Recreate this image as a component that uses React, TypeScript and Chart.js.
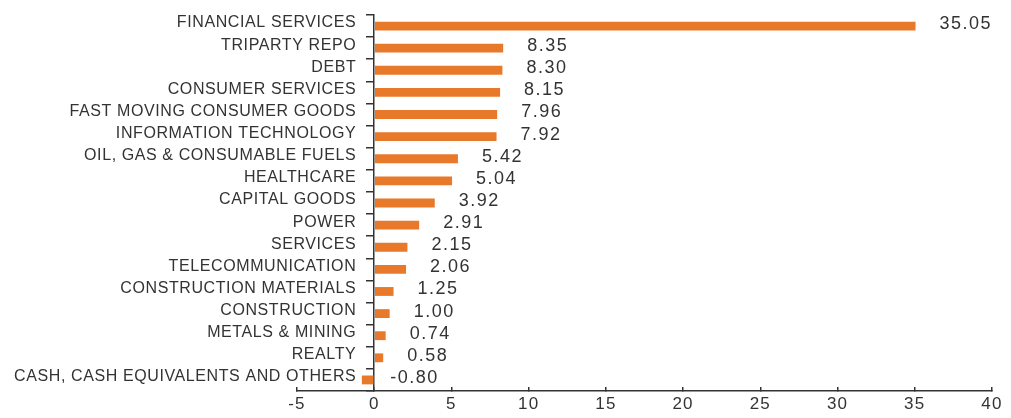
import React, { useEffect, useRef } from "react";
import { Chart, registerables } from "chart.js";

Chart.register(...registerables);

const categories = [
  "FINANCIAL SERVICES",
  "TRIPARTY REPO",
  "DEBT",
  "CONSUMER SERVICES",
  "FAST MOVING CONSUMER GOODS",
  "INFORMATION TECHNOLOGY",
  "OIL, GAS & CONSUMABLE FUELS",
  "HEALTHCARE",
  "CAPITAL GOODS",
  "POWER",
  "SERVICES",
  "TELECOMMUNICATION",
  "CONSTRUCTION MATERIALS",
  "CONSTRUCTION",
  "METALS & MINING",
  "REALTY",
  "CASH, CASH EQUIVALENTS AND OTHERS",
];

const values = [
  35.05, 8.35, 8.3, 8.15, 7.96, 7.92, 5.42, 5.04, 3.92, 2.91, 2.15, 2.06, 1.25,
  1.0, 0.74, 0.58, -0.8,
];

const xMin = -5;
const xMax = 40;
const xStep = 5;

const BAR_COLOR = "#E8792B";
const TEXT_COLOR = "#333333";
const AXIS_COLOR = "#333333";
const FONT_FAMILY = "'Liberation Sans', Arial, sans-serif";

const zeroPadding = (scale: any) => {
  scale.paddingTop = 0;
  scale.paddingBottom = 0;
  scale.paddingLeft = 0;
  scale.paddingRight = 0;
};

const spacingPlugin = {
  id: "letterSpacing",
  beforeLayout(chart: any) {
    (chart.ctx as any).letterSpacing = "1.2px";
  },
  beforeDraw(chart: any) {
    (chart.ctx as any).letterSpacing = "1.2px";
  },
};

const valueLabelPlugin = {
  id: "valueLabels",
  afterDatasetsDraw(chart: any) {
    const ctx = chart.ctx;
    const meta = chart.getDatasetMeta(0);
    const xScale = chart.scales.x;
    const zero = xScale.getPixelForValue(0);
    ctx.save();
    (ctx as any).letterSpacing = "1.5px";
    ctx.font = `18px ${FONT_FAMILY}`;
    ctx.fillStyle = TEXT_COLOR;
    ctx.textAlign = "left";
    ctx.textBaseline = "middle";
    meta.data.forEach((el: any, i: number) => {
      const v = values[i];
      const x = v >= 0 ? el.x + 24 : zero + 16;
      ctx.fillText(v.toFixed(2), x, el.y - 2);
    });
    ctx.restore();
    // spacing for the category labels drawn after the datasets
    (ctx as any).letterSpacing = "0.6px";
  },
};

export default function App() {
  const canvasRef = useRef<HTMLCanvasElement | null>(null);

  useEffect(() => {
    if (!canvasRef.current) return;
    const chart = new Chart(canvasRef.current, {
      type: "bar",
      data: {
        labels: categories,
        datasets: [
          {
            data: values,
            backgroundColor: BAR_COLOR,
            borderWidth: 0,
            categoryPercentage: 1,
            barPercentage: 0.4,
            xAxisID: "x",
            yAxisID: "y",
          },
        ],
      },
      plugins: [spacingPlugin, valueLabelPlugin],
      options: {
        indexAxis: "y",
        animation: false,
        responsive: true,
        maintainAspectRatio: false,
        layout: { padding: { left: 289, right: 11, top: 7, bottom: 0 } },
        plugins: {
          legend: { display: false },
          tooltip: { enabled: false },
        },
        scales: {
          x: {
            type: "linear",
            position: "bottom",
            min: xMin,
            max: xMax,
            ticks: {
              stepSize: xStep,
              color: TEXT_COLOR,
              font: { family: FONT_FAMILY, size: 17 },
              padding: 7,
            },
            grid: {
              drawOnChartArea: false,
              drawTicks: true,
              tickLength: -4,
              color: AXIS_COLOR,
              lineWidth: 1.5,
            },
            border: { display: true, color: AXIS_COLOR, width: 1.5 },
            afterFit(scale: any) {
              scale.height = 19;
              zeroPadding(scale);
            },
          },
          y: {
            type: "category",
            position: { x: 0 } as any,
            offset: true,
            ticks: { display: false, autoSkip: false },
            grid: {
              drawOnChartArea: false,
              drawTicks: true,
              tickLength: 7,
              offset: true,
              color: AXIS_COLOR,
              lineWidth: 1.5,
            },
            border: { display: true, color: AXIS_COLOR, width: 1.5 },
            afterFit: zeroPadding,
          },
          yl: {
            type: "category",
            axis: "y",
            position: { x: -1.16 } as any,
            offset: true,
            ticks: {
              color: TEXT_COLOR,
              font: { family: FONT_FAMILY, size: 16 },
              autoSkip: false,
              labelOffset: -3,
              z: 1,
            },
            grid: { display: false, drawTicks: false },
            border: { display: false },
            afterFit: zeroPadding,
          },
        },
      } as any,
    });
    return () => chart.destroy();
  }, []);

  return (
    <div style={{ height: 402, position: "relative" }}>
      <canvas ref={canvasRef} />
    </div>
  );
}
